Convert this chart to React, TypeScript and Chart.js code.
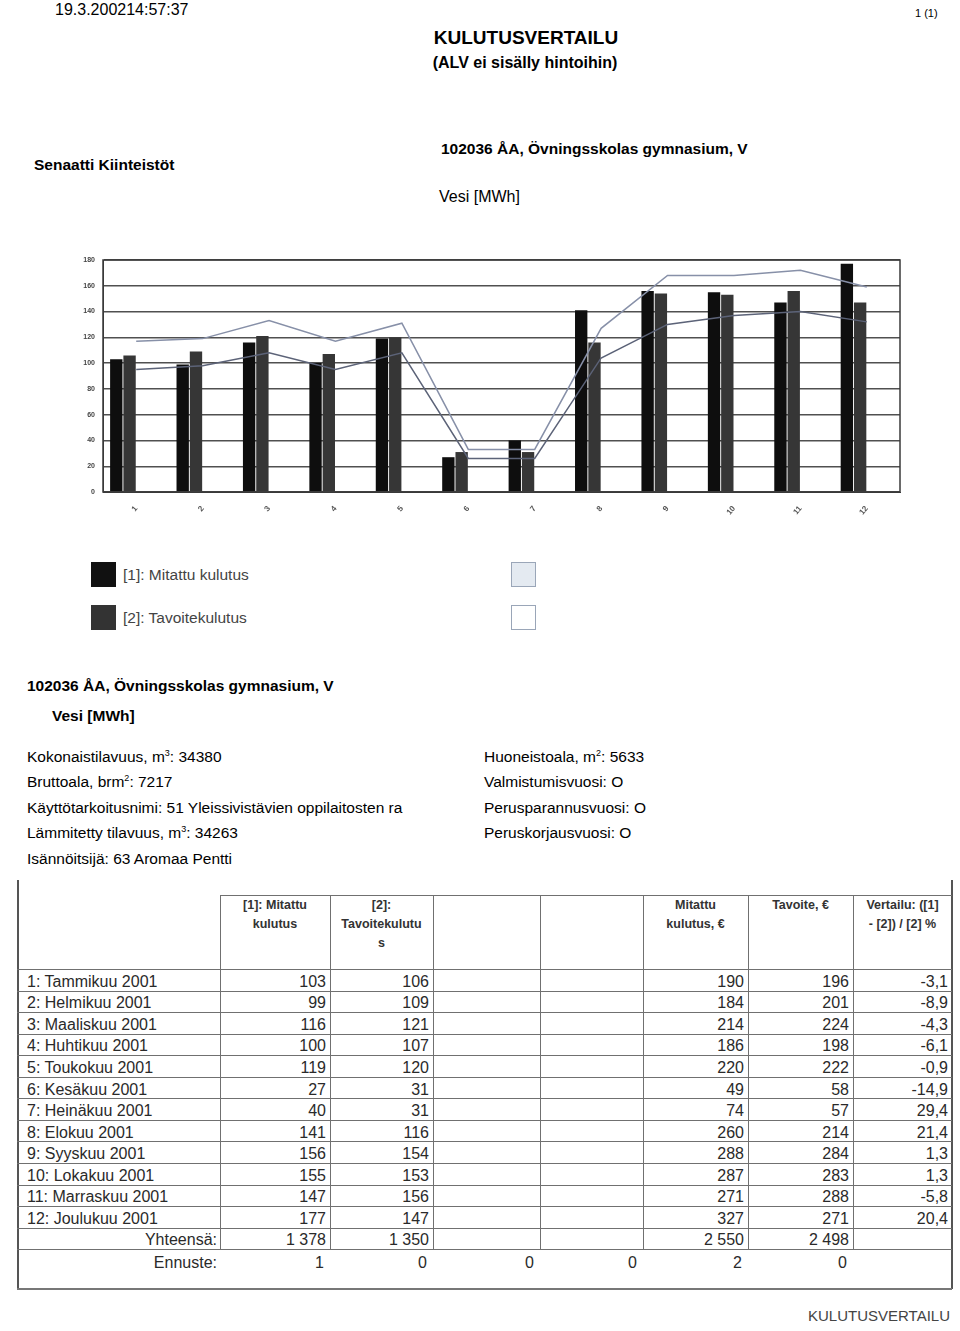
import React, { useEffect, useRef } from "react";
import { Chart, registerables } from "chart.js";

Chart.register(...registerables);

// ---- Data ----
const monthTicks = ["1", "2", "3", "4", "5", "6", "7", "8", "9", "10", "11", "12"];
const measured = [103, 99, 116, 100, 119, 27, 40, 141, 156, 155, 147, 177];
const target = [106, 109, 121, 107, 120, 31, 31, 116, 154, 153, 156, 147];
const emptySeries3 = [null, null, null, null, null, null, null, null, null, null, null, null];
const emptySeries4 = [null, null, null, null, null, null, null, null, null, null, null, null];
const upperLine = [117, 119, 133, 117, 131, 33, 33, 127, 168, 168, 172, 159];
const lowerLine = [95, 98, 108, 95, 108, 26, 26, 104, 130, 137, 140, 132];
const yTicks = [0, 20, 40, 60, 80, 100, 120, 140, 160, 180];

const monthNames = [
  "1: Tammikuu 2001", "2: Helmikuu 2001", "3: Maaliskuu 2001", "4: Huhtikuu 2001",
  "5: Toukokuu 2001", "6: Kesäkuu 2001", "7: Heinäkuu 2001", "8: Elokuu 2001",
  "9: Syyskuu 2001", "10: Lokakuu 2001", "11: Marraskuu 2001", "12: Joulukuu 2001",
];
const costMeasured = [190, 184, 214, 186, 220, 49, 74, 260, 288, 287, 271, 327];
const costTarget = [196, 201, 224, 198, 222, 58, 57, 214, 284, 283, 288, 271];
const comparison = ["-3,1", "-8,9", "-4,3", "-6,1", "-0,9", "-14,9", "29,4", "21,4", "1,3", "1,3", "-5,8", "20,4"];
const totals = ["1 378", "1 350", "", "", "2 550", "2 498", ""];
const forecast = ["1", "0", "0", "0", "2", "0", ""];

const FONT = '"Liberation Sans", Arial, sans-serif';

function T(props: { x: number; y: number; size: number; bold?: boolean; color?: string; align?: "left" | "right" | "center"; w?: number; children: React.ReactNode }) {
  const { x, y, size, bold, color, align, w, children } = props;
  const style: React.CSSProperties = {
    position: "absolute",
    top: y - size * 0.59,
    fontFamily: FONT,
    fontSize: size,
    fontWeight: bold ? "bold" : "normal",
    lineHeight: 1.2,
    color: color || "#000",
    whiteSpace: "nowrap",
  };
  if (align === "right") {
    style.left = x - (w || 300);
    style.width = w || 300;
    style.textAlign = "right";
  } else if (align === "center") {
    style.left = x - (w || 300) / 2;
    style.width = w || 300;
    style.textAlign = "center";
  } else {
    style.left = x;
  }
  return <div style={style}>{children}</div>;
}

function Line(props: { x1: number; y1: number; x2: number; y2: number; c?: string }) {
  const { x1, y1, x2, y2, c } = props;
  return (
    <div
      style={{
        position: "absolute",
        left: Math.min(x1, x2),
        top: Math.min(y1, y2),
        width: Math.max(1, Math.abs(x2 - x1)),
        height: Math.max(1, Math.abs(y2 - y1)),
        background: c || "#6a6a6a",
      }}
    />
  );
}

function ChartBox() {
  const ref = useRef<HTMLCanvasElement | null>(null);
  useEffect(() => {
    if (!ref.current) return;
    const framePlugin = {
      id: "frame",
      afterDraw(chart: any) {
        const { ctx, chartArea } = chart;
        ctx.save();
        ctx.strokeStyle = "#3a3a3a";
        ctx.lineWidth = 1.5;
        ctx.strokeRect(chartArea.left, chartArea.top, chartArea.right - chartArea.left, chartArea.bottom - chartArea.top);
        ctx.restore();
      },
    };
    const chart = new Chart(ref.current, {
      type: "bar",
      data: {
        labels: monthTicks,
        datasets: [
          { type: "line", label: "a", data: upperLine, borderColor: "#8790a8", borderWidth: 1.5, pointRadius: 0, tension: 0, order: 0 } as any,
          { type: "line", label: "b", data: lowerLine, borderColor: "#5c6378", borderWidth: 1.5, pointRadius: 0, tension: 0, order: 0 } as any,
          { label: "[1]: Mitattu kulutus", data: measured, backgroundColor: "#0e0e0e", order: 1, categoryPercentage: 0.8, barPercentage: 0.93 },
          { label: "[2]: Tavoitekulutus", data: target, backgroundColor: "#363636", order: 1, categoryPercentage: 0.8, barPercentage: 0.93 },
          { label: "3", data: emptySeries3, backgroundColor: "#dfe6ee", order: 1, categoryPercentage: 0.8, barPercentage: 0.93 },
          { label: "4", data: emptySeries4, backgroundColor: "#ffffff", order: 1, categoryPercentage: 0.8, barPercentage: 0.93 },
        ],
      },
      options: {
        animation: false,
        responsive: false,
        maintainAspectRatio: false,
        layout: { padding: { top: 15, right: 5, left: 0, bottom: 0 } },
        plugins: { legend: { display: false }, tooltip: { enabled: false } },
        scales: {
          x: {
            grid: { display: false },
            border: { display: true, color: "#3a3a3a" },
            ticks: { color: "#555", font: { family: FONT, size: 8, weight: "bold" }, minRotation: 50, maxRotation: 50, padding: 4 },
            afterFit: (s: any) => { s.height = 38; },
          },
          y: {
            min: 0,
            max: 180,
            afterBuildTicks: (s: any) => { s.ticks = yTicks.map((v) => ({ value: v })); },
            grid: { color: "#505050", lineWidth: 1.4, drawTicks: false },
            border: { display: true, color: "#3a3a3a" },
            ticks: { color: "#444", font: { family: FONT, size: 7, weight: "bold" }, padding: 8 },
            afterFit: (s: any) => { s.width = 43; },
          },
        },
      },
      plugins: [framePlugin],
    } as any);
    return () => chart.destroy();
  }, []);
  return (
    <canvas ref={ref} width={845} height={285} style={{ position: "absolute", left: 60, top: 245, width: 845, height: 285 }} />
  );
}

export default function App() {
  const colX = [17, 220, 330, 433, 540, 643, 748, 853, 952];
  const headTop = 895;
  const dataTop = 969;
  const rowH = 21.55;
  const lineC = "#707070";
  const textC = "#2a2a2a";
  const els: React.ReactNode[] = [];

  // table lines
  els.push(<Line key="ol" x1={17} y1={880} x2={18.5} y2={1289} c="#555" />);
  els.push(<Line key="or" x1={951} y1={880} x2={952.5} y2={1289} c="#555" />);
  els.push(<Line key="ob" x1={17} y1={1288} x2={952} y2={1289.5} c="#777" />);
  els.push(<Line key="ht" x1={220} y1={headTop} x2={952} y2={headTop + 1} c={lineC} />);
  for (let i = 1; i < colX.length - 1; i++) {
    els.push(<Line key={"hv" + i} x1={colX[i]} y1={headTop} x2={colX[i] + 1} y2={dataTop + rowH * 13} c={lineC} />);
  }
  for (let r = 0; r <= 13; r++) {
    const y = dataTop + r * rowH;
    els.push(<Line key={"rh" + r} x1={17} y1={y} x2={952} y2={y + 1} c={lineC} />);
  }
  // header text
  const headers: [number, string[]][] = [
    [1, ["[1]: Mitattu", "kulutus"]],
    [2, ["[2]:", "Tavoitekulutu", "s"]],
    [5, ["Mitattu", "kulutus, €"]],
    [6, ["Tavoite, €"]],
    [7, ["Vertailu: ([1]", "- [2]) / [2] %"]],
  ];
  headers.forEach(([c, lines]) => {
    lines.forEach((t, j) => {
      els.push(
        <T key={"h" + c + j} x={(colX[c] + colX[c + 1]) / 2} y={905 + j * 19} size={12.5} bold align="center" w={110} color="#333">
          {t}
        </T>
      );
    });
  });
  // data rows
  for (let r = 0; r < 12; r++) {
    const cy = dataTop + r * rowH + rowH / 2 + 1.5;
    const vals = [String(measured[r]), String(target[r]), "", "", String(costMeasured[r]), String(costTarget[r]), comparison[r]];
    els.push(<T key={"n" + r} x={27} y={cy} size={16} color={textC}>{monthNames[r]}</T>);
    vals.forEach((v, c) => {
      if (!v) return;
      els.push(<T key={"v" + r + c} x={colX[c + 2] - 4} y={cy} size={16} align="right" w={100} color={textC}>{v}</T>);
    });
  }
  const totY = dataTop + 12 * rowH + rowH / 2 + 1.5;
  els.push(<T key="yht" x={217} y={totY} size={16} align="right" w={200} color={textC}>Yhteensä:</T>);
  totals.forEach((v, c) => {
    if (!v) return;
    els.push(<T key={"t" + c} x={colX[c + 2] - 4} y={totY} size={16} align="right" w={100} color={textC}>{v}</T>);
  });
  els.push(<T key="enn" x={217} y={1262} size={16} align="right" w={200} color={textC}>Ennuste:</T>);
  forecast.forEach((v, c) => {
    if (!v) return;
    els.push(<T key={"f" + c} x={colX[c + 2] - 6} y={1262} size={16} align="right" w={100} color={textC}>{v}</T>);
  });

  return (
    <div style={{ position: "absolute", left: 0, top: 0, width: 960, height: 1331, background: "#fff", overflow: "hidden" }}>
      <T x={55} y={9} size={16}>19.3.200214:57:37</T>
      <T x={915} y={13} size={11}>1 (1)</T>
      <T x={526} y={38} size={19} bold align="center" w={400}>KULUTUSVERTAILU</T>
      <T x={525} y={62} size={16} bold align="center" w={400}>(ALV ei sisälly hintoihin)</T>
      <T x={34} y={165} size={15.5} bold>Senaatti Kiinteistöt</T>
      <T x={441} y={149} size={15.5} bold>102036 ÅA, Övningsskolas gymnasium, V</T>
      <T x={439} y={196} size={16}>Vesi [MWh]</T>

      <ChartBox />

      {/* legend */}
      <div style={{ position: "absolute", left: 91, top: 562, width: 25, height: 25, background: "#111" }} />
      <T x={123} y={575} size={15.5} color="#444">[1]: Mitattu kulutus</T>
      <div style={{ position: "absolute", left: 91, top: 605, width: 25, height: 25, background: "#333" }} />
      <T x={123} y={618} size={15.5} color="#444">[2]: Tavoitekulutus</T>
      <div style={{ position: "absolute", left: 511, top: 562, width: 23, height: 23, background: "#e4eaf1", border: "1px solid #9aa6b8" }} />
      <div style={{ position: "absolute", left: 511, top: 605, width: 23, height: 23, background: "#fff", border: "1px solid #9aa6b8" }} />

      <T x={27} y={686} size={15.5} bold>102036 ÅA, Övningsskolas gymnasium, V</T>
      <T x={52} y={716} size={15.5} bold>Vesi [MWh]</T>

      <T x={27} y={757} size={15.5}>Kokonaistilavuus, m<sup style={{ fontSize: 9 }}>3</sup>: 34380</T>
      <T x={27} y={782} size={15.5}>Bruttoala, brm<sup style={{ fontSize: 9 }}>2</sup>: 7217</T>
      <T x={27} y={808} size={15.5}>Käyttötarkoitusnimi: 51 Yleissivistävien oppilaitosten ra</T>
      <T x={27} y={833} size={15.5}>Lämmitetty tilavuus, m<sup style={{ fontSize: 9 }}>3</sup>: 34263</T>
      <T x={27} y={859} size={15.5}>Isännöitsijä: 63 Aromaa Pentti</T>
      <T x={484} y={757} size={15.5}>Huoneistoala, m<sup style={{ fontSize: 9 }}>2</sup>: 5633</T>
      <T x={484} y={782} size={15.5}>Valmistumisvuosi: O</T>
      <T x={484} y={808} size={15.5}>Perusparannusvuosi: O</T>
      <T x={484} y={833} size={15.5}>Peruskorjausvuosi: O</T>

      {els}

      <T x={950} y={1316} size={15} align="right" w={200} color="#444">KULUTUSVERTAILU</T>
    </div>
  );
}
